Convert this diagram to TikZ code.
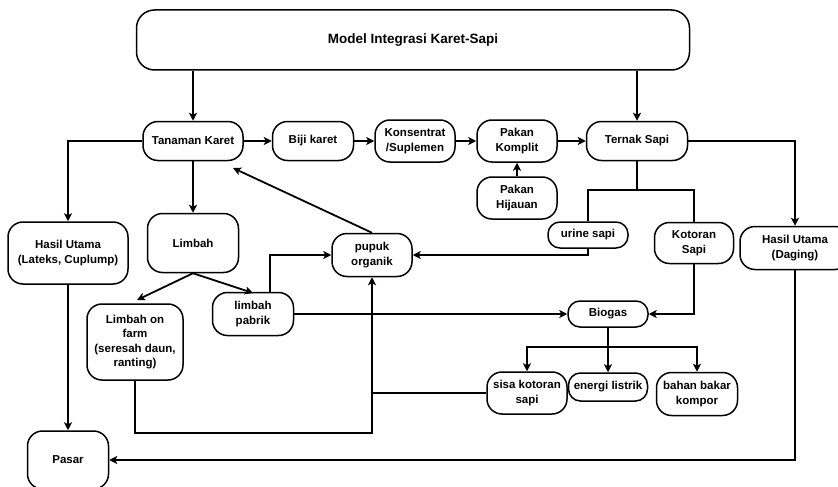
\documentclass[tikz,border=0pt]{standalone}
\usepackage{fontspec}
\setmainfont{Liberation Sans}
\usetikzlibrary{arrows.meta}
\begin{document}
\begin{tikzpicture}[x=1pt,y=-1pt,
  box/.style={draw, line width=1.5pt, rounded corners=15pt, align=center, inner sep=0pt,
    font=\fontsize{11.5}{14.5}\selectfont\bfseries},
  smallbox/.style={box, rounded corners=12pt},
  ln/.style={line width=1.8pt},
  arr/.style={ln, -{Stealth[length=8pt,width=8pt,inset=2pt]}}]
\useasboundingbox (0,0) rectangle (838,487);

% nodes
\node[box, rounded corners=18pt, minimum width=553pt, minimum height=60pt,
  font=\fontsize{13.5}{16}\selectfont\bfseries] (top) at (413,40) {Model Integrasi Karet-Sapi};
\node[box, minimum width=100pt, minimum height=39pt] (tk) at (193,141) {Tanaman Karet};
\node[box, minimum width=81pt, minimum height=39pt] (biji) at (313,141) {Biji karet};
\node[box, minimum width=80pt, minimum height=42pt] (kons) at (415,141) {Konsentrat\\/Suplemen};
\node[box, minimum width=80pt, minimum height=42pt] (pk) at (517,141) {Pakan\\Komplit};
\node[box, minimum width=80pt, minimum height=42pt] (ph) at (517,198) {Pakan\\Hijauan};
\node[box, minimum width=101pt, minimum height=39pt] (ts) at (637,141) {Ternak Sapi};
\node[box, minimum width=110pt, minimum height=43pt] (hud) at (795,248) {Hasil Utama\\(Daging)};
\node[smallbox, minimum width=80pt, minimum height=26pt] (urine) at (588,235) {urine sapi};
\node[box, minimum width=79pt, minimum height=41pt] (kot) at (694,243) {Kotoran\\Sapi};
\node[box, minimum width=80pt, minimum height=43pt] (pupuk) at (372,255) {pupuk\\organik};
\node[box, minimum width=120pt, minimum height=62pt] (hul) at (68,253) {Hasil Utama\\(Lateks, Cuplump)};
\node[box, minimum width=91pt, minimum height=59pt] (limbah) at (193,243) {Limbah};
\node[box, minimum width=96pt, minimum height=76pt] (lof) at (135,342) {Limbah on\\farm\\(seresah daun,\\ranting)};
\node[box, minimum width=81pt, minimum height=43pt] (lp) at (253,314) {limbah\\pabrik};
\node[smallbox, minimum width=80pt, minimum height=26pt] (bio) at (608,314) {Biogas};
\node[box, minimum width=80pt, minimum height=42pt] (sisa) at (527,393) {sisa kotoran\\sapi};
\node[smallbox, minimum width=79pt, minimum height=28pt] (energi) at (608,387) {energi listrik};
\node[box, minimum width=81pt, minimum height=43pt] (bahan) at (697,394) {bahan bakar\\kompor};
\node[box, minimum width=81pt, minimum height=58pt] (pasar) at (68,460) {Pasar};

% helper coordinates
\coordinate (tkin) at (233,168);
\coordinate (split) at (637,190);
\coordinate (bbar) at (608,347);
\coordinate (loop) at (372,433);
\coordinate (lof2) at (137,300);
\coordinate (lp2) at (253,293);

% connectors
\draw[arr] (top.south -| tk) -- (tk.north);
\draw[arr] (top.south -| ts) -- (ts.north);
\draw[arr] (tk) -- (biji);
\draw[arr] (biji) -- (kons);
\draw[arr] (kons) -- (pk);
\draw[arr] (pk) -- (ts);
\draw[arr] (ph) -- (pk);
\draw[arr] (tk.west) -| (hul.north);
\draw[arr] (tk) -- (limbah);
\draw[arr] (limbah.south) -- (lof2);
\draw[arr] (limbah.south) -- (lp2);
\draw[arr] ([xshift=17pt]lp.north) |- (pupuk.west);
\draw[arr] (pupuk.north) -- (tkin);
\draw[arr] (ts.east) -| (hud.north);
\draw[ln] (ts.south) -- (split);
\draw[ln] (urine.north) |- (split) -| (kot.north);
\draw[arr] (urine.south) |- (pupuk.east);
\draw[arr] (lp.east) -- (bio.west);
\draw[arr] (kot.south) |- (bio.east);
\draw[arr] (bio) -- (energi);
\draw[arr] (bbar) -| (sisa.north);
\draw[arr] (bbar) -| (bahan.north);
\draw[ln] (sisa.west) -- (sisa.west -| loop);
\draw[arr] (lof.south) |- (loop) -- (pupuk.south);
\draw[arr] (hul) -- (pasar);
\draw[arr] (hud.south) |- (pasar.east);
\end{tikzpicture}
\end{document}
